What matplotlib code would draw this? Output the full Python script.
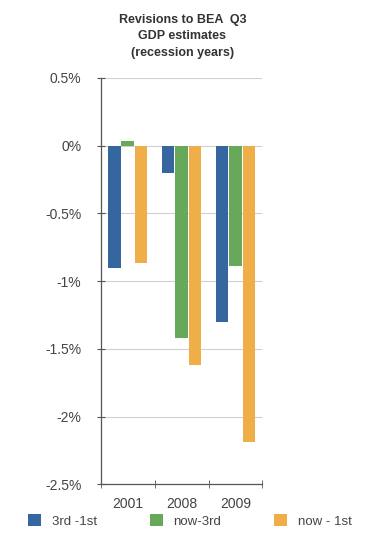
import matplotlib
matplotlib.use("Agg")
import matplotlib.pyplot as plt
from matplotlib.patches import Patch
from matplotlib.ticker import FixedLocator
import numpy as np

plt.rcParams["font.family"] = ["Liberation Sans", "DejaVu Sans"]

years = ["2001", "2008", "2009"]
series_names = ["3rd -1st", "now-3rd", "now - 1st"]
third_minus_first = [-0.90, -0.20, -1.30]
now_minus_third = [0.03, -1.42, -0.89]
now_minus_first = [-0.87, -1.62, -2.19]
y_ticks = [0.5, 0.0, -0.5, -1.0, -1.5, -2.0, -2.5]
y_labels = ["0.5%", "0%", "-0.5%", "-1%", "-1.5%", "-2%", "-2.5%"]

colors = ["#3566a0", "#68a85a", "#f0ae48"]

fig = plt.figure(figsize=(3.76, 5.40), dpi=100)
ax = fig.add_axes([0.268, 0.103, 0.430, 0.753])

x = np.arange(len(years))
width = 0.25
values = [third_minus_first, now_minus_third, now_minus_first]
for i, (vals, c) in enumerate(zip(values, colors)):
    ax.bar(x + (i - 1) * width, vals, width * 0.93, color=c, zorder=3)

ax.set_xlim(-0.5, 2.5)
ax.set_ylim(-2.5, 0.5)
ax.set_yticks(y_ticks)
ax.set_yticklabels(y_labels)
ax.yaxis.grid(True, color="#d0d0d0", linewidth=0.8, zorder=0)

ax.set_xticks(x)
ax.set_xticklabels(years)
ax.xaxis.set_minor_locator(FixedLocator([-0.5, 0.5, 1.5, 2.5]))
ax.tick_params(axis="x", which="major", length=0, pad=9)
ax.tick_params(axis="x", which="minor", length=6, direction="inout", color="#555555")
ax.tick_params(axis="y", length=6, direction="inout", color="#555555", pad=11)
ax.tick_params(labelsize=10, labelcolor="#444444")

for s in ["top", "right"]:
    ax.spines[s].set_visible(False)
for s in ["left", "bottom"]:
    ax.spines[s].set_color("#555555")
    ax.spines[s].set_linewidth(0.9)

fig.text(0.485, 0.975, "Revisions to BEA  Q3\nGDP estimates\n(recession years)",
         ha="center", va="top", fontsize=9, fontweight="bold", color="#333333",
         linespacing=1.55)

handles = [Patch(facecolor=c, edgecolor="none") for c in colors]
fig.legend(handles, series_names, loc="center", bbox_to_anchor=(0.505, 0.035), ncol=3,
           frameon=False, fontsize=9.5, handlelength=1.0, handleheight=1.0,
           handletextpad=0.8, columnspacing=4.0, labelcolor="#444444")

fig.savefig("out.png", dpi=100)
